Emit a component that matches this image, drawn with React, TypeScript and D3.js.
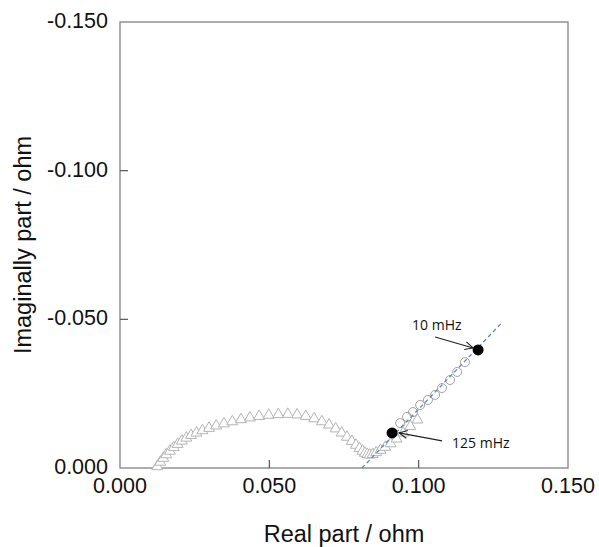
import React from "react";
import * as d3 from "d3";

// Data (real part, -imaginary part) in ohm
const triReal = [0.0125, 0.0135, 0.0145, 0.0155, 0.0167, 0.018, 0.0193, 0.0207, 0.0222, 0.0238, 0.0256, 0.0276, 0.0298, 0.0322, 0.0348, 0.0376, 0.0405, 0.0435, 0.0466, 0.0498, 0.053, 0.0562, 0.0593, 0.0622, 0.065, 0.0676, 0.07, 0.0722, 0.0742, 0.076, 0.0776, 0.079, 0.0802, 0.0812, 0.082, 0.0828, 0.0836, 0.0846, 0.0858, 0.0872, 0.0888, 0.0906, 0.0926, 0.0948, 0.0972, 0.0996];
const triImag = [0.0005, 0.002, 0.0033, 0.0045, 0.0057, 0.0069, 0.008, 0.0091, 0.0101, 0.011, 0.0118, 0.0126, 0.0134, 0.0142, 0.0149, 0.0156, 0.0163, 0.0169, 0.0174, 0.0178, 0.018, 0.0181, 0.0179, 0.0174, 0.0166, 0.0156, 0.0145, 0.0132, 0.0118, 0.0104, 0.009, 0.0077, 0.0066, 0.0057, 0.005, 0.0046, 0.0044, 0.0046, 0.0052, 0.006, 0.007, 0.0082, 0.0098, 0.0118, 0.014, 0.0162];

const circReal = [0.0938, 0.0961, 0.0981, 0.1005, 0.1031, 0.1055, 0.1078, 0.1105, 0.1129, 0.1155];
const circImag = [0.0151, 0.0172, 0.0188, 0.0212, 0.0229, 0.0246, 0.0269, 0.0296, 0.0323, 0.0356];

const fitReal = [0.081, 0.128];
const fitImag = [0.0, 0.049];

const markLabels = ["125 mHz", "10 mHz"];
const markReal = [0.0911, 0.1199];
const markImag = [0.0118, 0.0397];

const xTicks = [0, 0.05, 0.1, 0.15];
const xTickLabels = ["0.000", "0.050", "0.100", "0.150"];
const yTicks = [0, 0.05, 0.1, 0.15];
const yTickLabels = ["0.000", "-0.050", "-0.100", "-0.150"];

const W = 599;
const H = 547;
const L = 120, R = 568, T = 22, B = 468;

export default function App() {
  const x = d3.scaleLinear().domain([0, 0.15]).range([L, R]);
  const y = d3.scaleLinear().domain([0, 0.15]).range([B, T]);
  const axisColor = "#8a8a8a";
  const font = "'Liberation Sans', Arial, sans-serif";
  const tri = d3.symbol().type(d3.symbolTriangle).size(52)();
  const line = d3.line<number>().x((_, i) => x(fitReal[i])).y((_, i) => y(fitImag[i]));

  // annotation layout (pixel offsets relative to marker)
  const ann = [
    { textDx: 60, textDy: 15, startDx: 50, startDy: 8, endDx: 7, endDy: 0 },
    { textDx: -66, textDy: -20, startDx: -43, startDy: -13, endDx: -5, endDy: -2 },
  ];

  const arrowHead = (x1: number, y1: number, x2: number, y2: number) => {
    const a = Math.atan2(y2 - y1, x2 - x1);
    const len = 9;
    const spread = 0.45;
    const p1 = [x2 - len * Math.cos(a - spread), y2 - len * Math.sin(a - spread)];
    const p2 = [x2 - len * Math.cos(a + spread), y2 - len * Math.sin(a + spread)];
    return `M${p1[0]},${p1[1]}L${x2},${y2}L${p2[0]},${p2[1]}`;
  };

  return (
    <svg width={W} height={H} style={{ position: "absolute", left: 0, top: 0, background: "#fff" }}>
      {/* frame */}
      <rect x={L} y={T} width={R - L} height={B - T} fill="none" stroke={axisColor} strokeWidth={1.4} />
      {/* ticks */}
      {xTicks.map((t, i) => (
        <g key={"xt" + i}>
          {i > 0 && i < xTicks.length - 1 && (
            <line x1={x(t)} x2={x(t)} y1={B} y2={B - 8} stroke="#555" strokeWidth={1.2} />
          )}
          <text x={x(t)} y={B + 25} textAnchor="middle" fontFamily={font} fontSize={21.5} fill="#111">
            {xTickLabels[i]}
          </text>
        </g>
      ))}
      {yTicks.map((t, i) => (
        <g key={"yt" + i}>
          {i > 0 && i < yTicks.length - 1 && (
            <line x1={L} x2={L + 8} y1={y(t)} y2={y(t)} stroke="#555" strokeWidth={1.2} />
          )}
          <text x={108} y={y(t) + 6} textAnchor="end" fontFamily={font} fontSize={21.5} fill="#111">
            {yTickLabels[i]}
          </text>
        </g>
      ))}
      {/* axis titles */}
      <text x={(L + R) / 2} y={542} textAnchor="middle" fontFamily={font} fontSize={23.5} fill="#111">
        Real part / ohm
      </text>
      <text
        transform={`translate(31,${(T + B) / 2}) rotate(-90)`}
        textAnchor="middle"
        fontFamily={font}
        fontSize={23.5}
        fill="#111"
      >
        Imaginally part / ohm
      </text>
      {/* triangles */}
      {triReal.map((v, i) => (
        <path
          key={"tr" + i}
          d={tri}
          transform={`translate(${x(v)},${y(triImag[i])})`}
          fill="#fff"
          stroke="#b4b4b4"
          strokeWidth={1}
        />
      ))}
      {/* circles */}
      {circReal.map((v, i) => (
        <circle key={"c" + i} cx={x(v)} cy={y(circImag[i])} r={4.5} fill="none" stroke="#a0a0a0" strokeWidth={1} />
      ))}
      {/* fit line */}
      <path d={line(fitReal) || ""} fill="none" stroke="#5b86c8" strokeWidth={1.3} strokeDasharray="4,3" />
      {/* marked points */}
      {markReal.map((v, i) => (
        <circle key={"m" + i} cx={x(v)} cy={y(markImag[i])} r={5.5} fill="#000" />
      ))}
      {/* annotations */}
      {markLabels.map((lab, i) => {
        const cx = x(markReal[i]);
        const cy = y(markImag[i]);
        const a = ann[i];
        const x1 = cx + a.startDx, y1 = cy + a.startDy;
        const x2 = cx + a.endDx, y2 = cy + a.endDy;
        return (
          <g key={"a" + i}>
            <line x1={x1} y1={y1} x2={x2} y2={y2} stroke="#222" strokeWidth={1.1} />
            <path d={arrowHead(x1, y1, x2, y2)} fill="none" stroke="#222" strokeWidth={1.1} />
            <text x={cx + a.textDx} y={cy + a.textDy} fontFamily="'Open Sans', 'Noto Sans', sans-serif" fontSize={14} fill="#111">
              {lab}
            </text>
          </g>
        );
      })}
    </svg>
  );
}
